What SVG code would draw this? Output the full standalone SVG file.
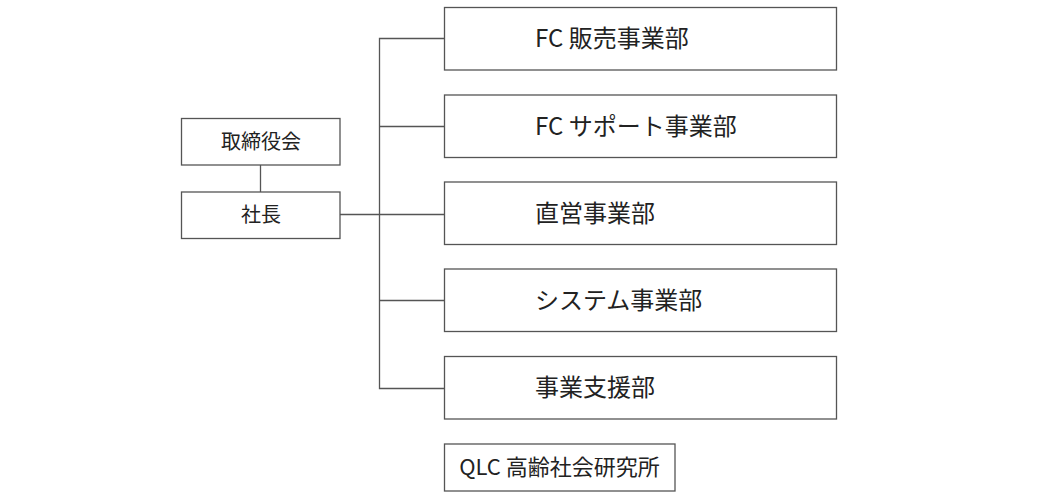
<svg xmlns="http://www.w3.org/2000/svg" width="1040" height="500" viewBox="0 0 1040 500">
<style>
.box{fill:#fff;stroke:#555;stroke-width:1.3}
.ln{fill:none;stroke:#555;stroke-width:1.3}
text{font-family:"Noto Sans CJK JP","Noto Sans",sans-serif;fill:#222}
.s{font-size:20px;text-anchor:middle}
.b{font-size:24px}
.q{font-size:22px;text-anchor:middle}
</style>
<rect width="1040" height="500" fill="#fff"/>
<g id="connectors">
<line class="ln" x1="260.5" y1="165" x2="260.5" y2="192"/>
<line class="ln" x1="340" y1="214.5" x2="444" y2="214.5"/>
<polyline class="ln" points="444,38.5 379.5,38.5 379.5,388.5 444,388.5"/>
<line class="ln" x1="379.5" y1="126.5" x2="444" y2="126.5"/>
<line class="ln" x1="379.5" y1="300.5" x2="444" y2="300.5"/>
</g>
<g id="board"><rect class="box" x="181.5" y="118.5" width="158.5" height="46.5"/><text class="s" x="261" y="149">取締役会</text></g>
<g id="president"><rect class="box" x="181.5" y="192" width="158.5" height="46.5"/><text class="s" x="261" y="222">社長</text></g>
<g id="fc-sales"><rect class="box" x="444.5" y="7.5" width="392" height="62.5"/><text class="b" x="535" y="47">FC 販売事業部</text></g>
<g id="fc-support"><rect class="box" x="444.5" y="95" width="392" height="62.5"/><text class="b" x="535" y="135">FC サポート事業部</text></g>
<g id="direct"><rect class="box" x="444.5" y="182" width="392" height="62.5"/><text class="b" x="535" y="222">直営事業部</text></g>
<g id="system"><rect class="box" x="444.5" y="269" width="392" height="62.5"/><text class="b" x="535" y="309">システム事業部</text></g>
<g id="support"><rect class="box" x="444.5" y="356.5" width="392" height="62.5"/><text class="b" x="535" y="396">事業支援部</text></g>
<g id="qlc"><rect class="box" x="444.5" y="444" width="230.5" height="47"/><text class="q" x="559.5" y="475">QLC 高齢社会研究所</text></g>
</svg>
